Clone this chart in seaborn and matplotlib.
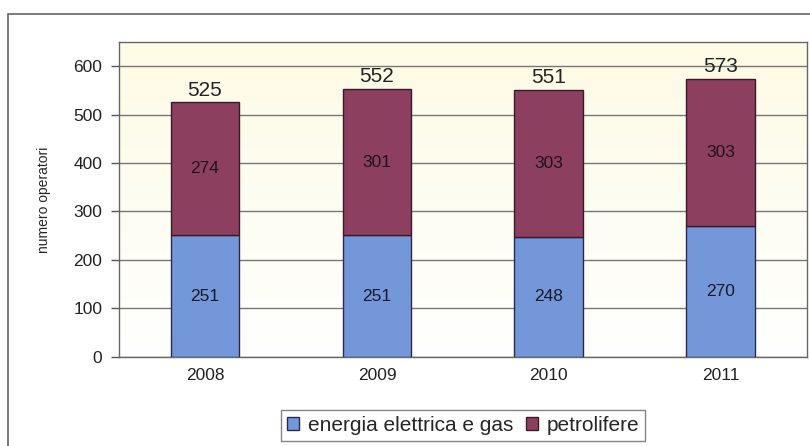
import numpy as np
import pandas as pd
import seaborn as sns
import matplotlib.pyplot as plt
from matplotlib.patches import Rectangle
from matplotlib.colors import LinearSegmentedColormap

# data
anni = ["2008", "2009", "2010", "2011"]
energia = [251, 251, 248, 270]
petrolifere = [274, 301, 303, 303]
totali = [525, 552, 551, 573]

df = pd.DataFrame({"anno": anni, "energia": energia, "petrolifere": petrolifere})

sns.set_style("white")
plt.rcParams["font.family"] = ["Liberation Sans", "DejaVu Sans"]
narrow = ["Liberation Sans Narrow", "Liberation Sans", "DejaVu Sans"]

fig = plt.figure(figsize=(8.1, 4.46), dpi=100)
ax = fig.add_axes([0.147, 0.2, 0.849, 0.706])

blu = "#7397d8"
bordeaux = "#8c3f5e"

sns.barplot(data=df, x="anno", y="energia", color=blu, width=0.4,
            edgecolor="#2a2a50", linewidth=1, saturation=1, ax=ax,
            label="energia elettrica e gas", zorder=3)
sns.barplot(data=df, x="anno", y="petrolifere", bottom=df["energia"], color=bordeaux,
            width=0.4, edgecolor="#3a1a2a", linewidth=1, saturation=1, ax=ax,
            label="petrolifere", zorder=3)

ax.set_ylim(0, 650)
ax.set_xlim(-0.5, 3.5)
ax.set_yticks(range(0, 700, 100))
ax.yaxis.grid(True, color="#777777", linewidth=1)
ax.set_axisbelow(True)

# gradient background: light yellow on top, white at bottom
grad = np.linspace(0, 1, 256).reshape(-1, 1)
cmap = LinearSegmentedColormap.from_list("bg", ["#ffffff", "#fdfbe4"])
ax.imshow(grad, extent=[-0.5, 3.5, 0, 650], aspect="auto", cmap=cmap,
          origin="lower", zorder=0)

for i in range(len(anni)):
    ax.text(i, energia[i] / 2, str(energia[i]), ha="center", va="center",
            fontsize=12.5, color="#1a1a2a", zorder=5)
    ax.text(i, energia[i] + petrolifere[i] / 2, str(petrolifere[i]), ha="center",
            va="center", fontsize=12.5, color="#20121c", zorder=5)
    ax.text(i, totali[i] + 6, str(totali[i]), ha="center", va="bottom",
            fontsize=15, family=narrow, color="#222222", zorder=5)

ax.set_xlabel("")
ax.set_ylabel("numero operatori", fontsize=10, family=narrow, labelpad=16)
ax.tick_params(axis="both", labelsize=12.5, colors="#222222", length=6, direction="out")
ax.tick_params(axis="x", length=0, pad=8)
ax.tick_params(axis="y", left=True, width=1, color="#555555", pad=6)
for s in ax.spines.values():
    s.set_color("#666666")
    s.set_linewidth(1)

ax.legend(loc="upper center", bbox_to_anchor=(0.5, -0.135), ncol=2, frameon=True,
          fancybox=False, edgecolor="#666666", fontsize=15, handlelength=0.6,
          handleheight=0.6, handletextpad=0.4, columnspacing=0.6, borderpad=0.3)

# outer chart frame
fig.patches.append(Rectangle((8 / 810, -0.05), 1.0, 1 - 14 / 446 + 0.05,
                             transform=fig.transFigure, fill=False,
                             edgecolor="#666666", linewidth=1.2, zorder=0))

fig.savefig("out.png", dpi=100)
